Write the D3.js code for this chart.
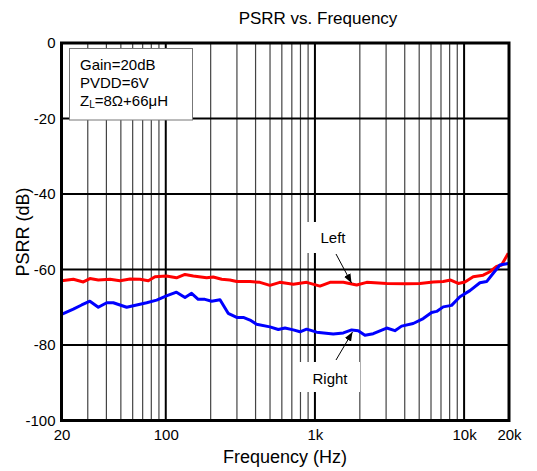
<!DOCTYPE html>
<html>
<head>
<meta charset="utf-8">
<script src="https://cdn.jsdelivr.net/npm/d3@7"></script>
<style>
html,body{margin:0;padding:0;background:#fff;}
text{font-family:"Liberation Sans",Arial,sans-serif;fill:#000;}
</style>
</head>
<body>
<svg id="chart" width="537" height="471"></svg>
<script>
const title = "PSRR vs. Frequency";
const xLabel = "Frequency (Hz)";
const yLabel = "PSRR (dB)";
const xTickValues = [20, 100, 1000, 10000, 20000];
const xTickLabels = ["20", "100", "1k", "10k", "20k"];
const yTickValues = [0, -20, -40, -60, -80, -100];
const yTickLabels = ["0", "-20", "-40", "-60", "-80", "-100"];
const annotationLines = ["Gain=20dB", "PVDD=6V"];

const leftFreq = [20, 24, 28, 31, 35.3, 42.3, 49.3, 57.6, 67.2, 76.4, 84.7, 101, 118, 134.6, 153, 188, 208, 237, 269, 299, 367, 428, 499, 582, 716, 880, 1081, 1262, 1550, 1905, 2223, 3027, 4122, 5058, 6212, 7247, 8122, 9140, 10127, 11508, 13427, 14886, 16508, 17832, 19770];
const leftDb = [-63.0, -62.6, -63.3, -62.4, -62.8, -62.6, -63.0, -62.5, -62.6, -63.0, -61.9, -61.7, -62.2, -61.3, -61.7, -62.2, -62.0, -62.6, -62.8, -63.2, -63.2, -63.4, -64.2, -63.4, -63.9, -63.4, -64.4, -63.4, -63.4, -64.1, -63.4, -63.7, -63.8, -63.7, -63.3, -63.2, -62.8, -63.7, -63.3, -61.9, -61.5, -60.6, -59.2, -58.8, -55.7];

const rightFreq = [20, 24, 27.3, 31, 35.3, 40.2, 44.5, 54.7, 63.8, 74.5, 86.9, 101, 118, 134.6, 149, 165, 183, 203, 231, 262, 299, 331, 367, 406, 499, 568, 630, 716, 794, 880, 1027, 1327, 1550, 1763, 1951, 2164, 2460, 3027, 3437, 3811, 4559, 5321, 6056, 6545, 7247, 8243, 9377, 10940, 12763, 14160, 15677, 17377, 19770];
const rightDb = [-71.9, -70.5, -69.4, -68.4, -70.0, -68.8, -68.8, -70.0, -69.4, -68.8, -68.1, -67.0, -66.0, -67.4, -66.3, -67.9, -67.9, -68.4, -68.0, -71.6, -72.7, -72.7, -73.4, -74.5, -75.2, -75.9, -75.5, -76.0, -76.5, -75.8, -76.6, -77.1, -76.8, -76.0, -76.2, -77.4, -77.0, -75.5, -76.2, -75.0, -74.3, -73.0, -71.4, -71.1, -69.9, -69.5, -67.2, -65.6, -63.5, -63.2, -61.0, -58.8, -58.4];

const minorFreqs = [30,40,50,60,70,80,90,200,300,400,500,600,700,800,900,2000,3000,4000,5000,6000,7000,8000,9000];
const majorFreqs = [100, 1000, 10000];
const hGrid = [-20, -40, -60, -80];

const svg = d3.select("#chart");
const x = d3.scaleLog().domain([20, 20000]).range([61.5, 509]);
const y = d3.scaleLinear().domain([-100, 0]).range([420.5, 43]);

// minor vertical grid
svg.append("g").selectAll("line").data(minorFreqs).join("line")
  .attr("x1", d => x(d)).attr("x2", d => x(d))
  .attr("y1", y(0)).attr("y2", y(-100))
  .attr("stroke", "#444").attr("stroke-width", 1.2);
// major vertical grid
svg.append("g").selectAll("line").data(majorFreqs).join("line")
  .attr("x1", d => x(d)).attr("x2", d => x(d))
  .attr("y1", y(0)).attr("y2", y(-100))
  .attr("stroke", "#000").attr("stroke-width", 2);
// horizontal grid
svg.append("g").selectAll("line").data(hGrid).join("line")
  .attr("x1", x(20)).attr("x2", x(20000))
  .attr("y1", d => y(d)).attr("y2", d => y(d))
  .attr("stroke", "#000").attr("stroke-width", 2);

// white label boxes (cover gridlines)
svg.append("rect").attr("x", 302).attr("y", 222).attr("width", 55).attr("height", 31).attr("fill", "#fff");
svg.append("rect").attr("x", 296).attr("y", 362).attr("width", 64).attr("height", 30).attr("fill", "#fff");

// curves
const line = d3.line().x(d => x(d[0])).y(d => y(d[1])).curve(d3.curveLinear);
svg.append("path").datum(leftFreq.map((f,i)=>[f,leftDb[i]]))
  .attr("d", line).attr("fill","none").attr("stroke","#ff0000").attr("stroke-width",3).attr("stroke-linejoin","round");
svg.append("path").datum(rightFreq.map((f,i)=>[f,rightDb[i]]))
  .attr("d", line).attr("fill","none").attr("stroke","#0000ff").attr("stroke-width",3).attr("stroke-linejoin","round");

// border
svg.append("rect").attr("x", x(20)).attr("y", y(0))
  .attr("width", x(20000)-x(20)).attr("height", y(-100)-y(0))
  .attr("fill","none").attr("stroke","#000").attr("stroke-width",3);

// annotation box
svg.append("rect").attr("x", 69.5).attr("y", 48.5).attr("width", 123).attr("height", 71.5)
  .attr("fill","#fff").attr("stroke","#777").attr("stroke-width",1);
const ann = svg.append("g").attr("font-size", 15);
annotationLines.forEach((t,i) => {
  ann.append("text").attr("x", 80).attr("y", 69.5 + i*18).text(t);
});
const zt = ann.append("text").attr("x", 80).attr("y", 105.5);
zt.append("tspan").text("Z");
zt.append("tspan").attr("font-size", 10).attr("dy", 2).text("L");
zt.append("tspan").attr("dy", -2).text("=8Ω+66μH");

// arrows
const defs = svg.append("defs");
defs.append("marker").attr("id","ah").attr("viewBox","0 0 10 10").attr("refX",10).attr("refY",5)
  .attr("markerWidth",9).attr("markerHeight",9).attr("orient","auto-start-reverse").attr("markerUnits","userSpaceOnUse")
  .append("path").attr("d","M0,1 L10,5 L0,9 Z").attr("fill","#000");
svg.append("line").attr("x1",336).attr("y1",254).attr("x2",351.5).attr("y2",283)
  .attr("stroke","#000").attr("stroke-width",1).attr("marker-end","url(#ah)");
svg.append("line").attr("x1",336).attr("y1",360).attr("x2",352.5).attr("y2",332)
  .attr("stroke","#000").attr("stroke-width",1).attr("marker-end","url(#ah)");
svg.append("text").attr("x",333).attr("y",243).attr("text-anchor","middle").attr("font-size",15).text("Left");
svg.append("text").attr("x",330).attr("y",384).attr("text-anchor","middle").attr("font-size",15).text("Right");

// axes tick labels
const xAxis = d3.axisBottom(x).tickValues(xTickValues).tickFormat((d,i)=>xTickLabels[i]).tickSize(0).tickPadding(9);
const gx = svg.append("g").attr("transform", `translate(0,${y(-100)})`).call(xAxis);
gx.select(".domain").remove();
gx.selectAll("text").attr("font-size", 15).attr("font-family", "Liberation Sans, Arial, sans-serif").attr("fill","#000");

const yAxis = d3.axisLeft(y).tickValues(yTickValues).tickFormat((d,i)=>yTickLabels[i]).tickSize(0).tickPadding(6);
const gy = svg.append("g").attr("transform", `translate(${x(20)},0)`).call(yAxis);
gy.select(".domain").remove();
gy.selectAll("text").attr("font-size", 15).attr("font-family", "Liberation Sans, Arial, sans-serif").attr("fill","#000");

// titles
svg.append("text").attr("x", 318).attr("y", 24).attr("text-anchor","middle").attr("font-size", 17).text(title);
svg.append("text").attr("x", 285).attr("y", 463).attr("text-anchor","middle").attr("font-size", 18).text(xLabel);
svg.append("text").attr("transform","translate(29,232) rotate(-90)").attr("text-anchor","middle").attr("font-size", 18).text(yLabel);
</script>
</body>
</html>
